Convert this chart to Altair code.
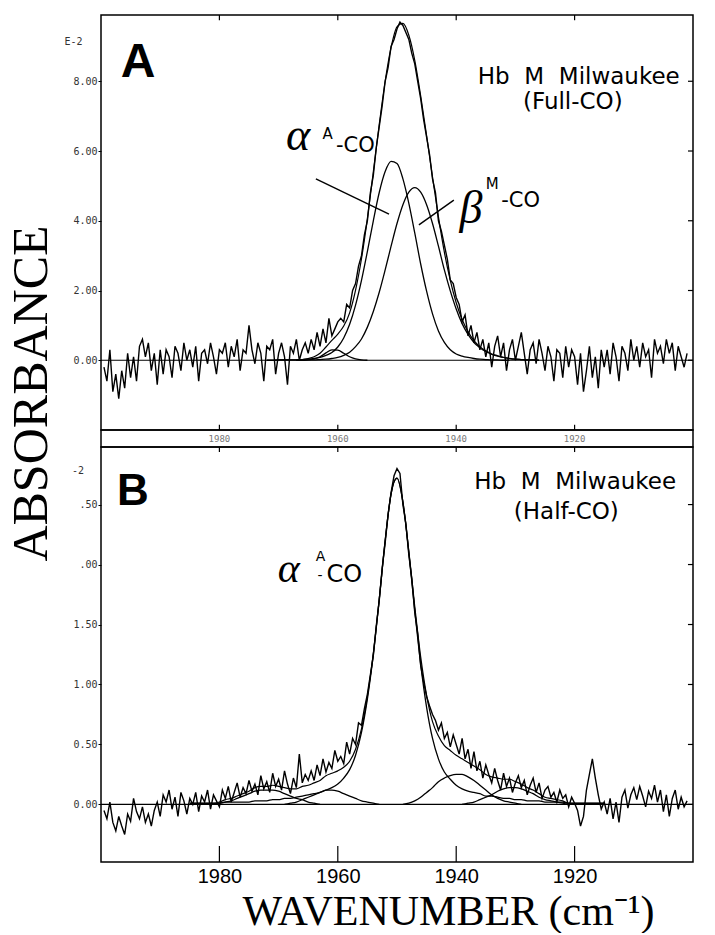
import altair as alt
import pandas as pd

# ---------------- measured spectra (absorbance, units of 1E-2) ----------------
OBS_FIRST_WN = 1999.5
OBS_STEP_WN = 0.5

obs_a = [
    -0.2, -0.6, 0.3, -0.9, -0.4, -1.1, -0.3, -0.8, 0.2, -0.5,
    0.1, -0.6, 0.4, 0.6, 0.1, 0.5, -0.3, 0.2, -0.7, 0.3,
    -0.4, 0.3, 0.1, -0.5, 0.4, 0.2, -0.3, 0.5, 0.0, 0.3,
    -0.2, 0.4, -0.6, 0.2, 0.3, -0.1, 0.5, 0.1, -0.4, 0.3,
    0.2, 0.5, -0.2, 0.4, 0.1, 0.6, -0.3, 0.3, 0.2, 1.0,
    0.3, -0.1, 0.5, 0.2, -0.6, 0.4, 0.3, 0.6, -0.4, 0.2,
    0.5, 0.1, -0.7, 0.4, 0.2, 0.6, 0.0, 0.3, 0.5, 0.2,
    0.6, 0.3, 0.8, 0.4, 0.9, 0.5, 1.2, 0.7, 0.9, 1.1,
    1.2, 1.1, 1.6, 1.5, 2.0, 2.2, 2.7, 3.0, 3.6, 4.0,
    4.8, 5.3, 6.1, 6.7, 7.3, 8.0, 8.4, 9.0, 9.2, 9.5,
    9.7, 9.6, 9.4, 9.2, 8.8, 8.5, 8.0, 7.5, 6.9, 6.4,
    5.9, 5.2, 4.8, 4.0, 3.7, 3.3, 2.9, 2.3, 2.2, 1.8,
    1.6, 1.1, 1.3, 0.7, 1.0, 0.5, 0.8, 0.3, 0.6, 0.1,
    0.5, -0.2, 0.4, 0.7, 0.1, 0.5, -0.3, 0.3, 0.6, 0.0,
    0.4, 0.8, 0.2, -0.4, 0.3, 0.5, -0.1, 0.6, 0.2, -0.3,
    0.4, 0.1, -0.6, 0.3, 0.2, -0.5, 0.4, -0.2, 0.3, 0.1,
    -0.7, 0.2, -0.9, -0.3, 0.4, -0.5, 0.1, -0.8, 0.3, -0.2,
    0.3, -0.4, 0.5, 0.1, -0.6, 0.4, 0.2, -0.3, 0.6, 0.0,
    0.4, -0.2, 0.5, 0.1, 0.3, -0.5, 0.6, 0.2, 0.4, -0.1,
    0.6, 0.2, 0.5, -0.3, 0.4, 0.1, -0.2, 0.2,
]

obs_b = [
    -0.05, -0.12, 0.02, -0.15, -0.22, -0.10, -0.18, -0.25, -0.08, -0.14,
    0.05, -0.06, -0.12, -0.02, -0.15, -0.08, -0.18, -0.05, 0.02, -0.10,
    0.08, 0.02, 0.12, -0.04, 0.06, -0.10, 0.10, 0.03, -0.08, 0.05,
    0.00, 0.10, -0.06, 0.07, 0.02, 0.12, -0.04, 0.08, 0.03, -0.02,
    0.12, 0.05, 0.15, 0.02, 0.10, 0.18, 0.06, 0.14, 0.09, 0.20,
    0.11, 0.17, 0.08, 0.24, 0.13, 0.19, 0.10, 0.26, 0.15, 0.21,
    0.12, 0.28, 0.17, 0.09, 0.22, 0.14, 0.42, 0.18, 0.25, 0.20,
    0.28, 0.20, 0.33, 0.24, 0.38, 0.27, 0.35, 0.30, 0.45, 0.36,
    0.40, 0.34, 0.52, 0.42, 0.55, 0.50, 0.68, 0.66, 0.80, 0.92,
    1.08, 1.24, 1.49, 1.70, 1.97, 2.18, 2.42, 2.60, 2.74, 2.80,
    2.76, 2.50, 2.34, 2.08, 1.88, 1.60, 1.42, 1.16, 1.02, 0.90,
    0.82, 0.75, 0.70, 0.62, 0.68, 0.55, 0.60, 0.48, 0.58, 0.50,
    0.42, 0.55, 0.38, 0.46, 0.30, 0.44, 0.28, 0.36, 0.22, 0.33,
    0.25, 0.18, 0.30, 0.20, 0.12, 0.26, 0.15, 0.22, 0.10, 0.18,
    0.24, 0.14, 0.20, 0.08, 0.16, 0.22, 0.10, 0.18, 0.05, 0.12,
    0.15, 0.06, 0.10, 0.02, 0.12, 0.05, 0.08, -0.02, 0.06, 0.01,
    -0.05, -0.18, -0.10, 0.12, 0.25, 0.38, 0.22, 0.08, -0.04, 0.02,
    -0.08, 0.05, -0.12, 0.02, -0.15, 0.06, 0.12, -0.03, 0.08, 0.14,
    0.04, 0.15, 0.07, -0.02, 0.11, 0.05, 0.16, 0.02, 0.12, -0.06,
    0.08, -0.10, 0.05, 0.12, -0.04, 0.06, -0.02, 0.03,
]

# ---------------- fitted components, panel A (Full-CO) ----------------
alpha_a_wn = list(range(1972, 1930, -1))
alpha_a = [
    0.0, 0.0, 0.01, 0.01, 0.01, 0.01, 0.02, 0.03, 0.05, 0.08,
    0.14, 0.22, 0.38, 0.64, 1.03, 1.58, 2.29, 3.12, 4.00, 4.81,
    5.41, 5.70, 5.64, 5.20, 4.50, 3.65, 2.76, 1.98, 1.33, 0.84,
    0.51, 0.30, 0.18, 0.12, 0.08, 0.05, 0.03, 0.02, 0.01, 0.01,
    0.0, 0.0,
]
beta_a_wn = list(range(1967, 1925, -1))
beta_a = [
    0.0, 0.0, 0.01, 0.01, 0.02, 0.03, 0.05, 0.08, 0.14, 0.23,
    0.39, 0.61, 0.95, 1.40, 1.95, 2.59, 3.27, 3.92, 4.46, 4.82,
    4.95, 4.82, 4.46, 3.92, 3.27, 2.59, 1.99, 1.47, 1.05, 0.74,
    0.51, 0.36, 0.25, 0.17, 0.12, 0.08, 0.05, 0.03, 0.02, 0.01,
    0.01, 0.0,
]
minor_a_wn = list(range(1967, 1954, -1))
minor_a = [0.0, 0.0, 0.01, 0.04, 0.10, 0.21, 0.30, 0.29, 0.20, 0.10, 0.04, 0.01, 0.0]

# ---------------- fitted components, panel B (Half-CO) ----------------
alpha_b_wn = list(range(1985, 1914, -1))
alpha_b = [
    0.01, 0.01, 0.01, 0.01, 0.01, 0.01, 0.02, 0.02, 0.02, 0.02,
    0.02, 0.03, 0.03, 0.03, 0.04, 0.04, 0.05, 0.05, 0.06, 0.07,
    0.08, 0.09, 0.10, 0.12, 0.14, 0.17, 0.22, 0.29, 0.41, 0.60,
    0.88, 1.25, 1.71, 2.20, 2.59, 2.72, 2.52, 2.10, 1.62, 1.17,
    0.81, 0.55, 0.38, 0.27, 0.21, 0.16, 0.13, 0.11, 0.10, 0.09,
    0.07, 0.07, 0.06, 0.05, 0.05, 0.04, 0.04, 0.03, 0.03, 0.03,
    0.02, 0.02, 0.02, 0.02, 0.01, 0.01, 0.01, 0.01, 0.01, 0.01,
    0.01,
]
b1_wn = list(range(1981, 1962, -1))
b1 = [0.0, 0.01, 0.02, 0.03, 0.05, 0.07, 0.09, 0.11, 0.12, 0.12,
      0.12, 0.11, 0.09, 0.07, 0.05, 0.04, 0.02, 0.01, 0.0]
b2_wn = list(range(1969, 1952, -1))
b2 = [0.0, 0.01, 0.02, 0.04, 0.06, 0.08, 0.10, 0.12, 0.12, 0.11,
      0.09, 0.07, 0.05, 0.03, 0.02, 0.01, 0.0]
b3_wn = list(range(1949, 1928, -1))
b3 = [0.0, 0.01, 0.03, 0.06, 0.10, 0.14, 0.19, 0.22, 0.24, 0.25,
      0.25, 0.23, 0.20, 0.16, 0.12, 0.08, 0.05, 0.03, 0.02, 0.01, 0.0]
b4_wn = list(range(1939, 1920, -1))
b4 = [0.0, 0.01, 0.02, 0.04, 0.06, 0.08, 0.11, 0.13, 0.14, 0.14,
      0.13, 0.11, 0.09, 0.06, 0.04, 0.03, 0.02, 0.01, 0.0]

# ---------------- axes ----------------
x_ticks = [1980, 1960, 1940, 1920]
y_ticks_a = [0, 2, 4, 6, 8]
y_ticks_b = [0, 0.5, 1.0, 1.5, 2.0, 2.5]

X_MIN, X_MAX = 1900, 2000
YA_MIN, YA_MAX = -2.0, 9.9
YB_MIN, YB_MAX = -0.48, 2.98

# ---------------- annotation anchors (data coordinates) ----------------
panel_letters = ["A", "B"]
panel_letter_wn = [1993.75, 1994.6]
panel_letter_abs = [8.12, 2.50]

sample_a = ["Hb\u00a0\u00a0M\u00a0\u00a0Milwaukee", "(Full-CO)"]
sample_a_wn = [1919.3, 1920.3]
sample_a_abs = [7.92, 7.20]
sample_b = ["Hb\u00a0\u00a0M\u00a0\u00a0Milwaukee", "(Half-CO)"]
sample_b_wn = [1919.9, 1921.4]
sample_b_abs = [2.63, 2.38]

# ---------------- build tables ----------------
def obs_frame(vals):
    return pd.DataFrame({"wn": [OBS_FIRST_WN - OBS_STEP_WN * i for i in range(len(vals))],
                         "abs": vals})


def comp_frame(comps):
    rows = []
    for name, wns, vals in comps:
        for w, v in zip(wns, vals):
            rows.append({"comp": name, "wn": w, "abs": v})
    return pd.DataFrame(rows)


def sum_frame(comps):
    tot = {}
    for _, wns, vals in comps:
        for w, v in zip(wns, vals):
            tot[w] = tot.get(w, 0.0) + v
    keys = sorted(tot.keys(), reverse=True)
    return pd.DataFrame({"wn": keys, "abs": [tot[k] for k in keys]})


comps_a = [("alpha", alpha_a_wn, alpha_a), ("beta", beta_a_wn, beta_a), ("minor", minor_a_wn, minor_a)]
comps_b = [("alpha", alpha_b_wn, alpha_b), ("b1", b1_wn, b1), ("b2", b2_wn, b2),
           ("b3", b3_wn, b3), ("b4", b4_wn, b4)]

xs = alt.Scale(domain=[X_MIN, X_MAX], reverse=True, nice=False, zero=False)
ysa = alt.Scale(domain=[YA_MIN, YA_MAX], nice=False, zero=False)
ysb = alt.Scale(domain=[YB_MIN, YB_MAX], nice=False, zero=False)

# ---------------- axis definitions ----------------
axis_ya = alt.Axis(values=y_ticks_a, labelExpr="format(datum.value, '.2f')", domain=False, grid=False,
                   ticks=True, tickSize=3, tickColor="black", labelFont="DejaVu Sans Mono",
                   labelFontSize=10, labelColor="#333333", labelPadding=1,
                   title="ABSORBANCE", titleFont="Liberation Serif", titleFontSize=50,
                   titleFontWeight="normal", titleColor="black", titleAngle=270,
                   titleX=-70, titleY=378, titleAlign="center", titleBaseline="middle")
axis_yb = alt.Axis(values=y_ticks_b,
                   labelExpr="datum.value == 2.5 ? '.50' : datum.value == 2 ? '.00' : format(datum.value, '.2f')",
                   domain=False, grid=False, ticks=True, tickSize=3, tickColor="black",
                   labelFont="DejaVu Sans Mono", labelFontSize=10, labelColor="#333333", labelPadding=1,
                   title=None)
axis_xb = alt.Axis(values=x_ticks, format="d", domain=False, grid=False, ticks=False,
                   labelFont="Liberation Sans", labelFontSize=20, labelColor="black", labelPadding=4,
                   title="WAVENUMBER (cm\u207b\u00b9)", titleFont="Liberation Serif", titleFontSize=42,
                   titleFontWeight="normal", titleColor="black", titleX=347, titleY=62,
                   titleAlign="center", titleBaseline="alphabetic")


class Panel:
    def __init__(self, yscale, xaxis, yaxis):
        self.yscale = yscale
        self.xaxis = xaxis
        self.yaxis = yaxis

    def X(self):
        return alt.X("wn:Q", scale=xs, axis=self.xaxis)

    def Y(self):
        return alt.Y("abs:Q", scale=self.yscale, axis=self.yaxis)

    def text(self, df, **kw):
        style = dict(color="black")
        style.update(kw)
        return alt.Chart(df).mark_text(**style).encode(x=self.X(), y=self.Y(), text="t:N")

    def zero(self):
        return alt.Chart(pd.DataFrame({"wn": [X_MAX], "wn2": [X_MIN], "abs": [0.0]})).mark_rule(
            color="black", strokeWidth=1.2).encode(x=self.X(), x2="wn2:Q", y=self.Y())

    def lines(self, df, width, interp, detail=False):
        enc = dict(x=self.X(), y=self.Y(), order="wn:Q")
        if detail:
            enc["detail"] = "comp:N"
        return alt.Chart(df).mark_line(color="black", strokeWidth=width, interpolate=interp).encode(**enc)

    def inward_ticks(self, y_vals, ymin, ymax, right_len, top_len, bottom_len):
        out = []
        right = pd.DataFrame({"abs": y_vals, "wn": X_MIN, "wn2": X_MIN + right_len})
        out.append(alt.Chart(right).mark_rule(color="black", strokeWidth=1.2).encode(
            y=self.Y(), x=self.X(), x2="wn2:Q"))
        top = pd.DataFrame({"wn": x_ticks, "abs": ymax, "abs2": ymax - top_len})
        out.append(alt.Chart(top).mark_rule(color="black", strokeWidth=1.2).encode(
            x=self.X(), y=self.Y(), y2="abs2:Q"))
        bot = pd.DataFrame({"wn": x_ticks, "abs": ymin, "abs2": ymin + bottom_len})
        out.append(alt.Chart(bot).mark_rule(color="black", strokeWidth=1.2).encode(
            x=self.X(), y=self.Y(), y2="abs2:Q"))
        return out


# ---------------- panel A ----------------
pa = Panel(ysa, None, axis_ya)
lead_a = pd.DataFrame({"wn": [1963.7, 1940.4], "abs": [5.20, 4.59],
                       "wn2": [1951.35, 1946.3], "abs2": [4.19, 3.88]})
panel_a = alt.layer(
    pa.zero(),
    pa.lines(comp_frame(comps_a), 1.3, "monotone", detail=True),
    pa.lines(sum_frame(comps_a), 1.2, "monotone"),
    pa.lines(obs_frame(obs_a), 1.4, "linear"),
    alt.Chart(lead_a).mark_rule(color="black", strokeWidth=1.4).encode(
        x=pa.X(), x2="wn2:Q", y=pa.Y(), y2="abs2:Q"),
    *pa.inward_ticks(y_ticks_a, YA_MIN, YA_MAX, 0.85, 0.15, 0.15),
    pa.text(pd.DataFrame({"wn": [2004.65], "abs": [9.04], "t": ["E-2"]}),
            font="DejaVu Sans Mono", fontSize=10, align="center", baseline="alphabetic", color="#333333"),
    pa.text(pd.DataFrame({"wn": [panel_letter_wn[0]], "abs": [panel_letter_abs[0]], "t": [panel_letters[0]]}),
            font="Liberation Sans", fontWeight="bold", fontSize=48, align="center", baseline="alphabetic"),
    pa.text(pd.DataFrame({"wn": sample_a_wn, "abs": sample_a_abs, "t": sample_a}),
            font="DejaVu Sans", fontSize=23, align="center", baseline="alphabetic"),
    pa.text(pd.DataFrame({"wn": [1966.7, 1937.5], "abs": [6.03, 3.93], "t": ["\u03b1", "\u03b2"]}),
            font="Liberation Serif", fontStyle="italic", fontSize=46, align="center", baseline="alphabetic"),
    pa.text(pd.DataFrame({"wn": [1961.7, 1933.9], "abs": [6.34, 4.91], "t": ["A", "M"]}),
            font="DejaVu Sans", fontSize=15, align="center", baseline="alphabetic"),
    pa.text(pd.DataFrame({"wn": [1960.3, 1932.4], "abs": [5.97, 4.39], "t": ["-CO", "-CO"]}),
            font="DejaVu Sans", fontSize=21, align="left", baseline="alphabetic"),
).properties(width=592, height=415)

# ---------------- strip with faint panel-A wavenumber labels ----------------
strip = alt.Chart(pd.DataFrame({"wn": x_ticks, "abs": 0.5, "t": [str(v) for v in x_ticks]})).mark_text(
    font="DejaVu Sans Mono", fontSize=9, color="#777777", align="center", baseline="middle").encode(
    x=alt.X("wn:Q", scale=xs, axis=None),
    y=alt.Y("abs:Q", scale=alt.Scale(domain=[0, 1]), axis=None), text="t:N"
).properties(width=592, height=17)

# ---------------- panel B ----------------
pb = Panel(ysb, axis_xb, axis_yb)
panel_b = alt.layer(
    pb.zero(),
    pb.lines(comp_frame(comps_b), 1.3, "monotone", detail=True),
    pb.lines(sum_frame(comps_b), 1.2, "monotone"),
    pb.lines(obs_frame(obs_b), 1.4, "linear"),
    *pb.inward_ticks(y_ticks_b, YB_MIN, YB_MAX, 0.85, 0.042, 0.133),
    pb.text(pd.DataFrame({"wn": [2003.9], "abs": [2.756], "t": ["-2"]}),
            font="DejaVu Sans Mono", fontSize=10, align="center", baseline="alphabetic", color="#333333"),
    pb.text(pd.DataFrame({"wn": [panel_letter_wn[1]], "abs": [panel_letter_abs[1]], "t": [panel_letters[1]]}),
            font="Liberation Sans", fontWeight="bold", fontSize=44, align="center", baseline="alphabetic"),
    pb.text(pd.DataFrame({"wn": sample_b_wn, "abs": sample_b_abs, "t": sample_b}),
            font="DejaVu Sans", fontSize=23, align="center", baseline="alphabetic"),
    pb.text(pd.DataFrame({"wn": [1968.3], "abs": [1.855], "t": ["\u03b1"]}),
            font="Liberation Serif", fontStyle="italic", fontSize=42, align="center", baseline="alphabetic"),
    pb.text(pd.DataFrame({"wn": [1962.9], "abs": [2.03], "t": ["A"]}),
            font="DejaVu Sans", fontSize=14, align="center", baseline="alphabetic"),
    pb.text(pd.DataFrame({"wn": [1963.0], "abs": [1.87], "t": ["-"]}),
            font="DejaVu Sans", fontSize=14, align="center", baseline="alphabetic"),
    pb.text(pd.DataFrame({"wn": [1961.9], "abs": [1.855], "t": ["CO"]}),
            font="DejaVu Sans", fontSize=24, align="left", baseline="alphabetic"),
).properties(width=592, height=415)

chart = alt.vconcat(panel_a, strip, panel_b, spacing=0, bounds="flush").properties(
    padding={"left": 5, "top": 13, "right": 0, "bottom": 0},
    background="white",
).configure_view(stroke="black", strokeWidth=1.5)

chart.save("out.html", embed_options={"renderer": "svg", "actions": False})
